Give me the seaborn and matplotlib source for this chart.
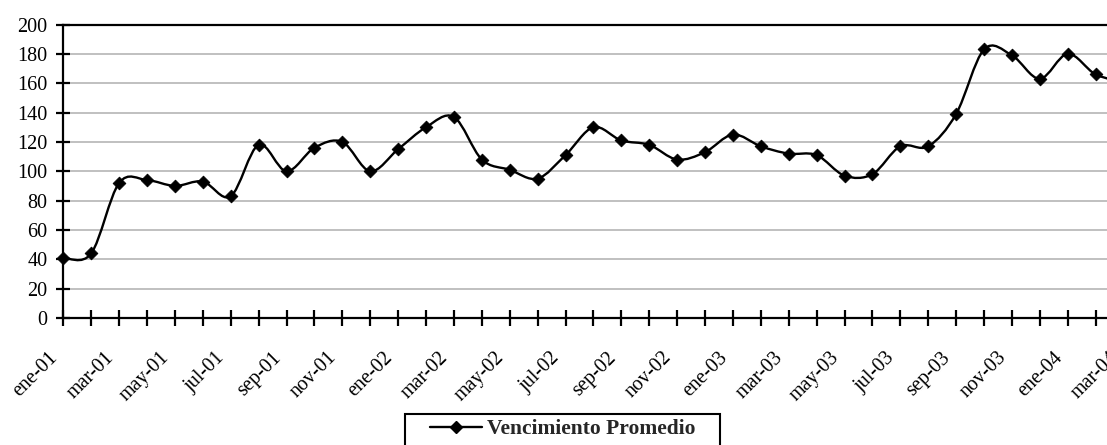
import numpy as np
import matplotlib
matplotlib.use("Agg")
import matplotlib.pyplot as plt
import matplotlib.transforms as mtransforms
from matplotlib.path import Path
from matplotlib.patches import PathPatch, Rectangle
from matplotlib.lines import Line2D
import seaborn as sns

# --- data (monthly, ene-01 .. mar-04) ---
MONTHS = ["ene", "feb", "mar", "abr", "may", "jun",
          "jul", "ago", "sep", "oct", "nov", "dic"]
YEARS = ["01", "02", "03", "04"]
N_POINTS = 39

VALUES = [41, 44, 92, 94, 90, 93, 83, 118, 100, 116, 120, 100,
          115, 130, 137, 108, 101, 95, 111, 130, 121, 118, 108, 113,
          125, 117, 112, 111, 97, 98, 117, 117, 139, 183, 179, 163,
          180, 166, 161]

SERIES_NAME = "Vencimiento Promedio"
Y_TICKS = list(range(0, 201, 20))

# figure geometry in pixels (reference is 1107 x 445)
W, H = 1107, 445
AX_LEFT, AX_RIGHT = 63.3, 1123.5
AX_TOP, AX_BOTTOM = 24.5, 318.0


def smooth_path(xs, ys):
    # Excel-style smoothed line: cubic Bezier through every point
    pts = np.column_stack([xs, ys]).astype(float)
    ext = np.vstack([pts[0], pts, pts[-1]])
    verts = [pts[0]]
    codes = [Path.MOVETO]
    for i in range(len(pts) - 1):
        p0, p1, p2, p3 = ext[i], ext[i + 1], ext[i + 2], ext[i + 3]
        verts += [p1 + (p2 - p0) / 6, p2 - (p3 - p1) / 6, p2]
        codes += [Path.CURVE4] * 3
    return Path(verts, codes)


def main():
    sns.set_style("white")
    plt.rcParams["font.family"] = ["Liberation Serif", "DejaVu Serif"]

    labels = [f"{MONTHS[i % 12]}-{YEARS[i // 12]}" for i in range(N_POINTS)]
    x = np.arange(N_POINTS)

    fig = plt.figure(figsize=(W / 100, H / 100), dpi=100)
    ax = fig.add_axes([AX_LEFT / W, (H - AX_BOTTOM) / H,
                       (AX_RIGHT - AX_LEFT) / W, (AX_BOTTOM - AX_TOP) / H])

    # smoothed line
    ax.add_patch(PathPatch(smooth_path(x, VALUES), fill=False,
                           edgecolor="black", lw=1.7, zorder=3))
    # diamond markers
    sns.scatterplot(x=x, y=VALUES, marker="D", s=42, color="black",
                    edgecolor="black", linewidth=0.6, ax=ax, zorder=4,
                    legend=False, clip_on=False)

    ax.set_xlim(0, N_POINTS - 1)
    ax.set_ylim(0, 200)
    ax.set_yticks(Y_TICKS)
    ax.set_xticks(x)
    ax.set_xticklabels([lab if i % 2 == 0 else "" for i, lab in enumerate(labels)])
    ax.set_xlabel("")
    ax.set_ylabel("")

    ax.yaxis.grid(True, color="#c0c0c0", lw=1.4)
    ax.xaxis.grid(False)
    ax.set_axisbelow(True)

    for side in ["left", "bottom", "top"]:
        ax.spines[side].set_color("black")
        ax.spines[side].set_linewidth(1.6)
    ax.spines["right"].set_visible(False)

    ax.tick_params(axis="y", direction="inout", length=10.5, width=1.6,
                   pad=6, labelsize=14.5, colors="black", left=True)
    ax.tick_params(axis="x", direction="inout", length=11.5, width=1.6,
                   pad=16, labelsize=14.5, colors="black", bottom=True)

    shift = mtransforms.ScaledTranslation(-15 / 100, 0, fig.dpi_scale_trans)
    for lab in ax.get_xticklabels():
        lab.set_rotation(45)
        lab.set_ha("right")
        lab.set_va("top")
        lab.set_rotation_mode("anchor")
        lab.set_transform(lab.get_transform() + shift)

    # legend box (bottom edge runs off the picture, as in the reference)
    fig.add_artist(Rectangle((405 / W, -0.05), (720 - 405) / W,
                             (H - 414) / H + 0.05, transform=fig.transFigure,
                             fill=False, edgecolor="black", lw=1.5))
    handle = Line2D([], [], color="black", lw=1.7, marker="D", ms=6.5)
    fig.legend(handles=[handle], labels=[SERIES_NAME], loc="center",
               bbox_to_anchor=(563 / W, 1 - 429 / H), frameon=False,
               prop={"weight": "bold", "size": 15.5}, handlelength=2.4,
               handletextpad=0.25, borderpad=0, borderaxespad=0)

    fig.savefig("out.png", dpi=100)
    plt.close(fig)


if __name__ == "__main__":
    main()
